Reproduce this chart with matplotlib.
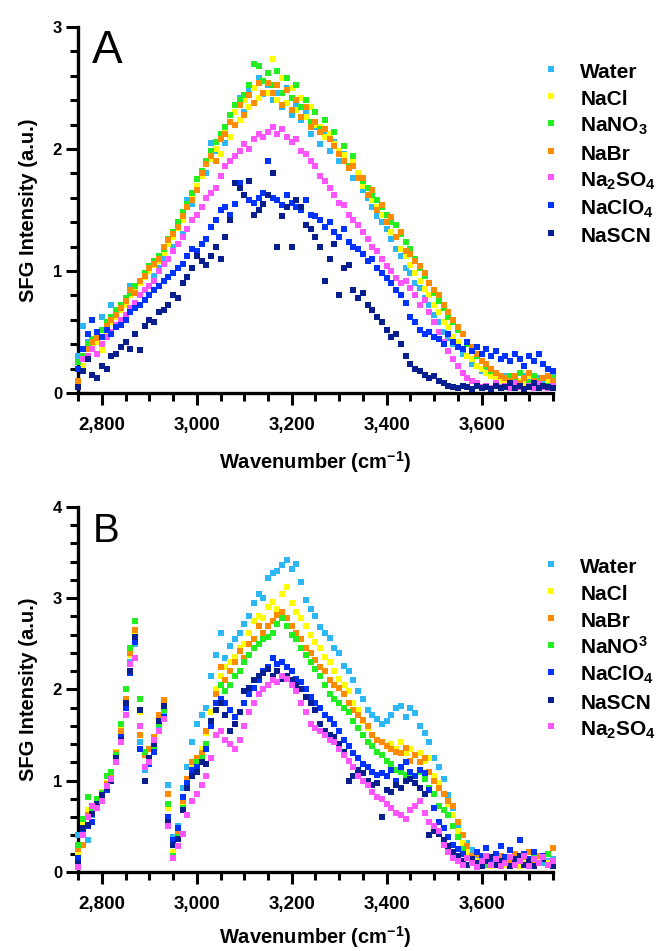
import matplotlib
matplotlib.use("Agg")
import matplotlib.pyplot as plt
from matplotlib.ticker import MultipleLocator, FuncFormatter
from matplotlib.lines import Line2D

plt.rcParams['font.family'] = ['Liberation Sans', 'DejaVu Sans']
plt.rcParams['mathtext.default'] = 'regular'

WAVENUMBER = list(range(2750, 3751, 10))

# ---------------- Panel A ----------------
A_LABELS = ['Water', 'NaCl', 'NaNO$_3$', 'NaBr', 'Na$_2$SO$_4$', 'NaClO$_4$', 'NaSCN']
A_COLORS = ['#2DB7F5', '#FFFF00', '#22EE22', '#FF8C00', '#FF55FF', '#0033FF', '#0A1F8F']

A_WATER = [0.30, 0.55, 0.42, 0.60, 0.48, 0.62, 0.55, 0.72, 0.66, 0.70,
           0.78, 0.88, 0.82, 0.90, 0.98, 1.00, 0.96, 1.02, 1.10, 1.22,
           1.20, 1.36, 1.30, 1.58, 1.55, 1.66, 1.78, 1.80, 2.05, 1.98,
           2.08, 2.05, 2.28, 2.20, 2.42, 2.30, 2.48, 2.38, 2.58, 2.45,
           2.52, 2.40, 2.46, 2.34, 2.50, 2.28, 2.36, 2.24, 2.30, 2.12,
           2.18, 2.04, 2.12, 1.98, 2.06, 1.90, 1.96, 1.84, 1.76, 1.80,
           1.66, 1.60, 1.52, 1.45, 1.40, 1.34, 1.26, 1.18, 1.12, 1.02,
           0.98, 0.90, 0.86, 0.78, 0.72, 0.64, 0.58, 0.50, 0.45, 0.40,
           0.38, 0.32, 0.30, 0.24, 0.22, 0.18, 0.20, 0.15, 0.16, 0.12,
           0.14, 0.10, 0.12, 0.08, 0.14, 0.10, 0.06, 0.12, 0.08, 0.10,
           0.14]
A_NACL = [0.05, 0.22, 0.30, 0.38, 0.42, 0.35, 0.50, 0.58, 0.62, 0.68,
          0.72, 0.80, 0.85, 0.90, 0.95, 1.00, 1.05, 1.08, 1.15, 1.22,
          1.28, 1.35, 1.42, 1.52, 1.60, 1.70, 1.78, 1.90, 1.92, 2.00,
          1.96, 2.16, 2.10, 2.30, 2.24, 2.40, 2.34, 2.50, 2.42, 2.56,
          2.46, 2.74, 2.40, 2.58, 2.38, 2.50, 2.32, 2.42, 2.26, 2.34,
          2.20, 2.18, 2.10, 2.12, 2.04, 1.98, 1.95, 1.86, 1.90, 1.80,
          1.70, 1.68, 1.58, 1.52, 1.46, 1.40, 1.32, 1.28, 1.18, 1.12,
          1.05, 0.98, 0.92, 0.85, 0.80, 0.72, 0.66, 0.58, 0.54, 0.46,
          0.42, 0.36, 0.30, 0.28, 0.22, 0.20, 0.16, 0.14, 0.12, 0.10,
          0.08, 0.12, 0.06, 0.10, 0.08, 0.14, 0.10, 0.06, 0.12, 0.10,
          0.08]
A_NANO3 = [0.25, 0.30, 0.40, 0.44, 0.48, 0.52, 0.58, 0.62, 0.68, 0.72,
           0.78, 0.82, 0.88, 0.92, 0.98, 1.04, 1.08, 1.12, 1.18, 1.26,
           1.32, 1.40, 1.48, 1.55, 1.64, 1.75, 1.82, 1.90, 1.98, 2.06,
           2.12, 2.18, 2.28, 2.36, 2.40, 2.44, 2.52, 2.70, 2.68, 2.56,
           2.62, 2.52, 2.64, 2.46, 2.58, 2.42, 2.52, 2.34, 2.40, 2.22,
           2.30, 2.16, 2.24, 2.08, 2.14, 1.96, 2.02, 1.86, 1.94, 1.76,
           1.74, 1.68, 1.62, 1.58, 1.52, 1.46, 1.40, 1.38, 1.30, 1.24,
           1.18, 1.10, 1.02, 0.96, 0.90, 0.82, 0.75, 0.70, 0.62, 0.58,
           0.52, 0.48, 0.40, 0.34, 0.30, 0.26, 0.22, 0.18, 0.16, 0.14,
           0.12, 0.14, 0.10, 0.16, 0.12, 0.08, 0.14, 0.10, 0.12, 0.06,
           0.12]
A_NABR = [0.10, 0.28, 0.36, 0.42, 0.45, 0.40, 0.55, 0.60, 0.64, 0.70,
          0.75, 0.84, 0.82, 0.92, 0.96, 1.02, 1.06, 1.10, 1.20, 1.25,
          1.30, 1.36, 1.45, 1.52, 1.58, 1.66, 1.80, 1.88, 1.94, 1.90,
          2.08, 2.12, 2.22, 2.20, 2.36, 2.28, 2.44, 2.38, 2.54, 2.46,
          2.54, 2.46, 2.52, 2.36, 2.48, 2.32, 2.40, 2.26, 2.34, 2.18,
          2.22, 2.14, 2.16, 2.08, 2.02, 1.96, 1.90, 1.84, 1.86, 1.76,
          1.76, 1.62, 1.66, 1.50, 1.54, 1.40, 1.44, 1.28, 1.32, 1.16,
          1.14, 1.08, 1.04, 0.98, 0.90, 0.84, 0.80, 0.72, 0.66, 0.60,
          0.54, 0.48, 0.42, 0.38, 0.32, 0.26, 0.24, 0.20, 0.16, 0.14,
          0.12, 0.10, 0.14, 0.08, 0.12, 0.16, 0.10, 0.08, 0.12, 0.14,
          0.10]
A_NA2SO4 = [0.20, 0.28, 0.30, 0.36, 0.32, 0.40, 0.46, 0.50, 0.56, 0.60,
            0.64, 0.70, 0.74, 0.80, 0.84, 0.88, 0.92, 1.00, 1.06, 1.10,
            1.16, 1.22, 1.28, 1.34, 1.42, 1.46, 1.52, 1.60, 1.64, 1.68,
            1.78, 1.86, 1.90, 1.94, 1.98, 2.04, 2.00, 2.08, 2.12, 2.10,
            2.14, 2.18, 2.12, 2.16, 2.10, 2.06, 2.08, 1.98, 1.96, 1.90,
            1.86, 1.78, 1.74, 1.68, 1.62, 1.56, 1.54, 1.46, 1.42, 1.38,
            1.32, 1.26, 1.20, 1.16, 1.10, 1.04, 1.00, 0.94, 0.90, 0.92,
            0.86, 0.80, 0.72, 0.76, 0.66, 0.58, 0.50, 0.42, 0.34, 0.28,
            0.22, 0.16, 0.12, 0.10, 0.08, 0.05, 0.06, 0.04, 0.08, 0.05,
            0.06, 0.04, 0.08, 0.05, 0.03, 0.06, 0.04, 0.07, 0.05, 0.04,
            0.06]
A_NACLO4 = [0.20, 0.36, 0.48, 0.60, 0.50, 0.46, 0.52, 0.48, 0.54, 0.56,
            0.60, 0.66, 0.70, 0.72, 0.76, 0.80, 0.84, 0.88, 0.92, 0.95,
            0.98, 1.02, 1.06, 1.12, 1.18, 1.16, 1.22, 1.26, 1.36, 1.42,
            1.50, 1.52, 1.46, 1.55, 1.72, 1.62, 1.58, 1.56, 1.60, 1.64,
            1.90, 1.60, 1.58, 1.54, 1.62, 1.56, 1.52, 1.50, 1.58, 1.46,
            1.45, 1.42, 1.36, 1.40, 1.32, 1.28, 1.34, 1.24, 1.20, 1.18,
            1.14, 1.08, 1.10, 1.02, 0.98, 0.94, 0.90, 0.84, 0.80, 0.74,
            0.62, 0.58, 0.52, 0.48, 0.50, 0.46, 0.44, 0.40, 0.48, 0.42,
            0.38, 0.36, 0.42, 0.34, 0.38, 0.32, 0.36, 0.30, 0.34, 0.28,
            0.30, 0.26, 0.32, 0.28, 0.22, 0.30, 0.26, 0.32, 0.24, 0.20,
            0.18]
A_NASCN = [0.05, 0.18, 0.28, 0.15, 0.12, 0.22, 0.20, 0.30, 0.32, 0.38,
           0.42, 0.36, 0.48, 0.35, 0.55, 0.60, 0.58, 0.66, 0.68, 0.72,
           0.80, 0.78, 0.90, 0.95, 1.02, 1.12, 1.08, 1.05, 1.12, 1.20,
           1.10, 1.28, 1.42, 1.72, 1.68, 1.62, 1.74, 1.46, 1.50, 1.55,
           1.62, 1.80, 1.20, 1.45, 1.52, 1.20, 1.58, 1.52, 1.38, 1.34,
           1.28, 1.20, 0.92, 1.10, 1.22, 0.80, 1.02, 1.05, 0.84, 0.78,
           0.82, 0.72, 0.68, 0.62, 0.58, 0.52, 0.46, 0.48, 0.40, 0.30,
           0.24, 0.20, 0.18, 0.15, 0.12, 0.14, 0.10, 0.08, 0.06, 0.05,
           0.04, 0.06, 0.05, 0.03, 0.06, 0.04, 0.05, 0.03, 0.06, 0.04,
           0.05, 0.08, 0.04, 0.06, 0.03, 0.05, 0.08, 0.04, 0.06, 0.05,
           0.04]
A_SERIES = [A_WATER, A_NACL, A_NANO3, A_NABR, A_NA2SO4, A_NACLO4, A_NASCN]

# ---------------- Panel B ----------------
B_LABELS = ['Water', 'NaCl', 'NaBr', 'NaNO$^3$', 'NaClO$_4$', 'NaSCN', 'Na$_2$SO$_4$']
B_COLORS = ['#2DB7F5', '#FFFF00', '#FF8C00', '#22EE22', '#0033FF', '#0A1F8F', '#FF55FF']

B_WATER = [0.40, 0.45, 0.35, 0.62, 0.72, 0.82, 0.92, 1.02, 1.25, 1.50,
           1.80, 2.30, 2.50, 1.42, 1.12, 1.20, 1.38, 1.60, 1.72, 0.95,
           0.38, 0.50, 0.92, 1.15, 1.42, 1.62, 1.72, 1.80, 2.15, 2.38,
           2.62, 2.35, 2.48, 2.55, 2.62, 2.72, 2.80, 2.95, 3.05, 3.00,
           3.22, 3.28, 3.30, 3.36, 3.42, 3.32, 3.38, 3.18, 2.98, 2.88,
           2.80, 2.68, 2.62, 2.56, 2.46, 2.40, 2.26, 2.20, 2.10, 1.98,
           1.90, 1.78, 1.72, 1.68, 1.62, 1.65, 1.72, 1.80, 1.82, 1.70,
           1.80, 1.74, 1.60, 1.52, 1.42, 1.25, 1.15, 1.02, 0.84, 0.70,
           0.52, 0.40, 0.32, 0.24, 0.18, 0.14, 0.12, 0.16, 0.10, 0.14,
           0.12, 0.08, 0.16, 0.10, 0.14, 0.12, 0.08, 0.15, 0.10, 0.12,
           0.14]
B_NACL = [0.20, 0.55, 0.68, 0.70, 0.80, 0.88, 0.98, 1.08, 1.32, 1.58,
          1.88, 2.38, 2.60, 1.75, 1.15, 1.25, 1.42, 1.65, 1.80, 0.70,
          0.22, 0.45, 0.75, 1.00, 1.15, 1.25, 1.35, 1.52, 1.75, 2.00,
          2.15, 2.25, 2.30, 2.36, 2.45, 2.50, 2.62, 2.75, 2.80, 2.78,
          2.90, 2.96, 2.88, 3.05, 3.12, 2.95, 2.85, 2.78, 2.70, 2.60,
          2.52, 2.45, 2.36, 2.30, 2.20, 2.12, 2.05, 1.98, 1.85, 1.78,
          1.65, 1.58, 1.50, 1.45, 1.42, 1.38, 1.40, 1.35, 1.42, 1.30,
          1.35, 1.28, 1.30, 1.22, 1.25, 1.05, 0.98, 0.85, 0.75, 0.62,
          0.45, 0.32, 0.22, 0.15, 0.12, 0.08, 0.12, 0.06, 0.10, 0.14,
          0.08, 0.12, 0.10, 0.06, 0.14, 0.10, 0.08, 0.12, 0.16, 0.10,
          0.12]
B_NABR = [0.25, 0.30, 0.62, 0.68, 0.76, 0.84, 0.96, 1.06, 1.30, 1.55,
          1.90, 2.40, 2.65, 1.50, 1.28, 1.35, 1.48, 1.72, 1.88, 0.85,
          0.30, 0.42, 0.78, 1.02, 1.20, 1.25, 1.30, 1.55, 1.65, 1.95,
          2.25, 2.10, 2.20, 2.30, 2.42, 2.35, 2.50, 2.55, 2.70, 2.62,
          2.70, 2.75, 2.82, 2.85, 2.78, 2.70, 2.62, 2.55, 2.45, 2.40,
          2.32, 2.25, 2.20, 2.10, 2.05, 2.02, 1.95, 1.85, 1.78, 1.72,
          1.66, 1.60, 1.50, 1.45, 1.42, 1.38, 1.35, 1.32, 1.30, 1.36,
          1.22, 1.28, 1.20, 1.25, 1.10, 1.00, 0.92, 0.85, 0.78, 0.72,
          0.55, 0.40, 0.28, 0.18, 0.20, 0.14, 0.10, 0.16, 0.12, 0.18,
          0.14, 0.10, 0.20, 0.12, 0.16, 0.22, 0.12, 0.18, 0.14, 0.20,
          0.26]
B_NANO3 = [0.30, 0.58, 0.82, 0.70, 0.80, 0.86, 1.05, 1.10, 1.28, 1.62,
           2.00, 2.45, 2.75, 1.90, 1.32, 1.20, 1.38, 1.62, 1.78, 0.75,
           0.18, 0.38, 0.70, 0.95, 1.10, 1.20, 1.25, 1.40, 1.60, 1.85,
           2.05, 1.98, 2.05, 2.15, 2.20, 2.30, 2.38, 2.45, 2.50, 2.55,
           2.58, 2.62, 2.72, 2.78, 2.70, 2.60, 2.55, 2.45, 2.38, 2.30,
           2.22, 2.15, 2.05, 1.95, 1.90, 1.85, 1.80, 1.75, 1.65, 1.58,
           1.50, 1.42, 1.38, 1.32, 1.28, 1.22, 1.18, 1.12, 1.10, 1.06,
           1.08, 1.05, 1.10, 1.02, 0.92, 0.85, 0.72, 0.68, 0.62, 0.50,
           0.38, 0.25, 0.15, 0.10, 0.06, 0.12, 0.08, 0.14, 0.10, 0.06,
           0.12, 0.16, 0.10, 0.14, 0.08, 0.12, 0.18, 0.10, 0.14, 0.20,
           0.10]
B_NACLO4 = [0.15, 0.45, 0.50, 0.55, 0.72, 0.80, 0.90, 1.00, 1.22, 1.48,
            1.80, 2.18, 2.52, 1.35, 1.00, 1.18, 1.32, 1.55, 1.70, 0.60,
            0.35, 0.48, 0.82, 0.98, 1.12, 1.15, 1.20, 1.35, 1.60, 1.85,
            1.90, 1.85, 1.78, 1.70, 1.75, 1.85, 1.95, 2.02, 2.10, 2.20,
            2.25, 2.35, 2.28, 2.30, 2.25, 2.20, 2.12, 2.08, 2.00, 1.92,
            1.85, 1.80, 1.72, 1.68, 1.62, 1.55, 1.45, 1.38, 1.30, 1.25,
            1.18, 1.15, 1.10, 1.06, 1.08, 1.05, 1.12, 1.00, 1.15, 1.20,
            1.10, 1.05, 1.12, 1.08, 0.90, 0.70, 0.55, 0.48, 0.38, 0.30,
            0.25, 0.20, 0.15, 0.12, 0.22, 0.18, 0.26, 0.14, 0.20, 0.28,
            0.16, 0.24, 0.12, 0.35, 0.20, 0.14, 0.22, 0.10, 0.18, 0.08,
            0.12]
B_NASCN = [0.10, 0.48, 0.52, 0.64, 0.74, 0.84, 0.92, 1.00, 1.25, 1.45,
           1.85, 2.20, 2.58, 1.78, 1.00, 1.25, 1.40, 1.65, 1.82, 0.55,
           0.30, 0.36, 0.68, 0.92, 1.05, 1.10, 1.20, 1.18, 1.65, 1.78,
           1.85, 1.72, 1.55, 1.62, 1.75, 1.98, 2.02, 2.10, 2.15, 2.18,
           2.22, 2.15, 2.20, 2.12, 2.15, 2.10, 2.05, 2.00, 1.92, 1.85,
           1.78, 1.62, 1.55, 1.50, 1.48, 1.40, 1.32, 1.00, 1.05, 1.12,
           1.08, 1.00, 0.95, 0.98, 0.60, 0.90, 0.88, 0.95, 0.92, 1.00,
           1.02, 0.98, 0.92, 0.85, 0.40, 0.45, 0.42, 0.35, 0.28, 0.22,
           0.18, 0.12, 0.08, 0.14, 0.10, 0.06, 0.12, 0.16, 0.08, 0.12,
           0.10, 0.06, 0.14, 0.18, 0.08, 0.12, 0.06, 0.10, 0.14, 0.08,
           0.06]
B_NA2SO4 = [0.05, 0.40, 0.60, 0.72, 0.70, 0.78, 0.94, 1.02, 1.20, 1.42,
            1.72, 2.28, 2.35, 1.60, 1.15, 1.20, 1.45, 1.55, 1.68, 0.50,
            0.15, 0.28, 0.42, 0.62, 0.78, 0.85, 0.95, 1.05, 1.25, 1.50,
            1.55, 1.45, 1.40, 1.35, 1.45, 1.60, 1.75, 1.85, 1.95, 2.00,
            2.05, 2.10, 2.08, 2.15, 2.12, 2.05, 1.98, 1.85, 1.75, 1.62,
            1.58, 1.55, 1.50, 1.45, 1.42, 1.35, 1.28, 1.22, 1.15, 1.05,
            1.00, 0.95, 0.88, 0.82, 0.80, 0.75, 0.70, 0.65, 0.62, 0.58,
            0.68, 0.72, 0.78, 0.65, 0.55, 0.50, 0.45, 0.30, 0.22, 0.15,
            0.12, 0.08, 0.15, 0.10, 0.05, 0.12, 0.18, 0.08, 0.14, 0.06,
            0.10, 0.16, 0.08, 0.12, 0.18, 0.06, 0.14, 0.10, 0.16, 0.08,
            0.12]
B_SERIES = [B_WATER, B_NACL, B_NABR, B_NANO3, B_NACLO4, B_NASCN, B_NA2SO4]

X_LIMITS = (2750, 3750)
A_YMAX = 3
B_YMAX = 4

FAMILY = ['Liberation Sans', 'DejaVu Sans']

fig = plt.figure(figsize=(6.67, 9.51), dpi=100)
axA = fig.add_axes([0.117, 0.5868, 0.712, 0.3849])
axB = fig.add_axes([0.117, 0.0831, 0.712, 0.3838])


def style(ax, ymax, panel, letter_size, letter_y, xlabelpad):
    ax.set_xlim(*X_LIMITS)
    ax.set_ylim(0, ymax)
    for s in ('top', 'right'):
        ax.spines[s].set_visible(False)
    for s in ('left', 'bottom'):
        ax.spines[s].set_linewidth(2.4)
    ax.xaxis.set_major_locator(MultipleLocator(200))
    ax.xaxis.set_minor_locator(MultipleLocator(50))
    ax.yaxis.set_major_locator(MultipleLocator(1))
    ax.yaxis.set_minor_locator(MultipleLocator(0.2))
    ax.xaxis.set_major_formatter(FuncFormatter(lambda v, p: f'{v:,.0f}'))
    ax.yaxis.set_major_formatter(FuncFormatter(lambda v, p: f'{v:.0f}'))
    ax.tick_params(which='major', direction='out', length=8.5, width=2.2)
    ax.tick_params(which='minor', direction='out', length=5.5, width=2.2)
    ax.tick_params(axis='x', which='major', labelsize=13.5, pad=8.5)
    ax.tick_params(axis='y', which='major', labelsize=12, pad=3)
    for lab in ax.get_xticklabels() + ax.get_yticklabels():
        lab.set_fontweight('bold')
    ax.set_xlabel('Wavenumber (cm$^{-1}$)', fontsize=14.5, labelpad=xlabelpad,
                  fontweight='bold', family=FAMILY)
    ax.set_ylabel('SFG Intensity (a.u.)', fontsize=14.5, labelpad=11,
                  fontweight='bold', family=FAMILY)
    ax.text(0.03, letter_y, panel, transform=ax.transAxes, fontsize=letter_size,
            va='top', ha='left', family=FAMILY)


def draw(ax, series, labels, colors, legend_top):
    for vals, lab, col in zip(series, labels, colors):
        ax.scatter(WAVENUMBER, vals, marker='s', s=15, c=col, linewidths=0,
                   clip_on=False, zorder=3)
    handles = [Line2D([], [], linestyle='none', marker='s', markersize=4,
                      markerfacecolor=c, markeredgewidth=0) for c in colors]
    ax.legend(handles, labels, loc='upper left', bbox_to_anchor=(0.974, legend_top),
              frameon=False, borderpad=0, borderaxespad=0,
              handlelength=1.0, handletextpad=0.9, handleheight=1.3,
              labelspacing=0.2, prop=dict(size=15, weight='bold', family=FAMILY))


draw(axA, A_SERIES, A_LABELS, A_COLORS, 0.91)
draw(axB, B_SERIES, B_LABELS, B_COLORS, 0.868)
style(axA, A_YMAX, 'A', 33, 0.995, 11)
style(axB, B_YMAX, 'B', 29, 0.985, 8)

fig.savefig('out.png', dpi=100)
